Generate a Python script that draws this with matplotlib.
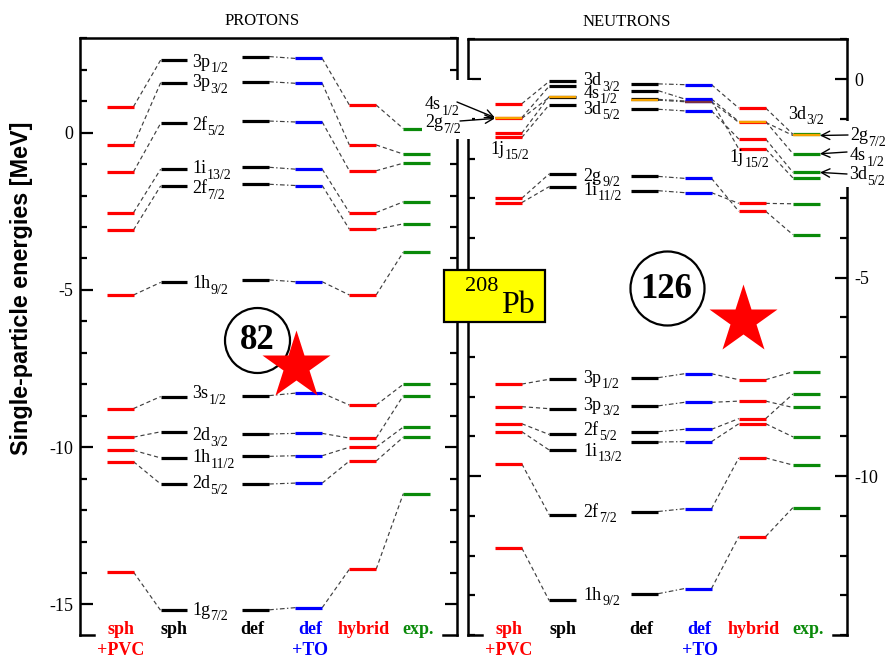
import matplotlib
matplotlib.use("Agg")
import matplotlib.pyplot as plt
from matplotlib.patches import Rectangle
from matplotlib.text import Annotation
from matplotlib.lines import Line2D
from matplotlib.ticker import MultipleLocator

plt.rcParams['font.family'] = ['Liberation Serif', 'DejaVu Serif']
plt.rcParams['axes.unicode_minus'] = False

# ---------------- data: single-particle energies [MeV] ----------------
columns = ["sph+PVC", "sph", "def", "def+TO", "hybrid", "exp."]

proton_states = ["3p1/2", "3p3/2", "2f5/2", "1i13/2", "2f7/2", "1h9/2",
                 "3s1/2", "2d3/2", "1h11/2", "2d5/2", "1g7/2"]
proton_sph_pvc = [0.83, -0.39, -1.24, -2.54, -3.09, -5.16, -8.77, -9.68, -10.10, -10.46, -13.97]
proton_sph     = [2.31, 1.59, 0.30, -1.16, -1.69, -4.76, -8.39, -9.51, -10.34, -11.17, -15.19]
proton_def     = [2.42, 1.62, 0.37, -1.10, -1.64, -4.68, -8.36, -9.58, -10.29, -11.17, -15.17]
proton_def_to  = [2.36, 1.57, 0.34, -1.16, -1.68, -4.74, -8.28, -9.56, -10.27, -11.14, -15.10]
proton_hybrid  = [0.88, -0.39, -1.21, -2.54, -3.07, -5.16, -8.66, -9.71, -10.00, -10.44, -13.88]
proton_exp     = [0.13, -0.68, -0.97, -2.20, -2.90, -3.80, -8.00, -8.36, -9.36, -9.68, -11.48]

neutron_states = ["3d3/2", "4s1/2", "2g7/2", "1j15/2", "3d5/2", "1i11/2", "2g9/2",
                  "3p1/2", "2f5/2", "3p3/2", "1i13/2", "2f7/2", "1h9/2"]
neutron_sph_pvc = [-0.62, -0.97, -0.99, -1.36, -1.47, -3.11, -3.00,
                   -7.68, -8.68, -8.25, -8.88, -9.69, -11.81]
neutron_sph     = [-0.06, -0.18, -0.46, -0.44, -0.65, -2.71, -2.39,
                   -7.56, -8.95, -8.30, -9.34, -10.97, -13.13]
neutron_def     = [-0.12, -0.29, -0.53, -0.51, -0.76, -2.81, -2.45,
                   -7.52, -8.88, -8.23, -9.14, -10.89, -12.96]
neutron_def_to  = [-0.14, -0.50, -0.57, -0.55, -0.80, -2.86, -2.50,
                   -7.42, -8.82, -8.14, -9.13, -10.82, -12.83]
neutron_hybrid  = [-0.73, -1.07, -1.09, -1.76, -1.51, -3.13, -3.33,
                   -7.57, -8.55, -8.11, -8.68, -9.54, -11.52]
neutron_exp     = [-1.39, -1.88, -1.42, -2.49, -2.35, -3.14, -3.92,
                   -7.37, -7.93, -8.27, -9.01, -9.72, -10.79]

# ---------------- layout ----------------
W, H = 889, 661
fig = plt.figure(figsize=(W / 100, H / 100), dpi=100)
renderer = fig.canvas.get_renderer()


def fig_rect(x0, y0, x1, y1):
    """Rectangle given in pixels from the top-left corner -> figure fraction."""
    return [x0 / W, 1 - y1 / H, (x1 - x0) / W, (y1 - y0) / H]


axL = fig.add_axes(fig_rect(80, 38, 457, 635))
axR = fig.add_axes(fig_rect(468, 39, 847, 635))

col_centers = [0.1065, 0.2495, 0.466, 0.607, 0.750, 0.893]
half = 0.0355
col_colors = ['#ff0000', '#000000', '#000000', '#0000ff', '#ff0000', '#0a8a0a']
g72_colors = ['#f5a300', '#f5a300', '#f5a300', '#7a3040', '#f5a300', '#f5a300']
conn_color = '#404040'
pairs = [(0, 1, (0, (3.5, 2.5))), (2, 3, (0, (4, 2, 1.2, 2))),
         (3, 4, (0, (3.5, 2.5))), (4, 5, (0, (3.5, 2.5)))]

MAIN_SIZE, SUB_SIZE, BASE_SHIFT, SUB_DROP = 13, 10, -4.3, 4.0


def style_axes(ax, ylim, labels_on):
    ax.set_xlim(0, 1)
    ax.set_ylim(*ylim)
    ax.set_xticks([])
    ax.yaxis.set_major_locator(MultipleLocator(5))
    ax.yaxis.set_minor_locator(MultipleLocator(1))
    ax.tick_params(axis='y', which='both', direction='in', left=True, right=True,
                   labelleft=(labels_on == 'left'), labelright=(labels_on == 'right'),
                   labelsize=13)
    ax.tick_params(axis='y', which='major', length=9, width=1.6, pad=5)
    ax.tick_params(axis='y', which='minor', length=5, width=1.6)
    ax.spines['bottom'].set_visible(False)
    for s in ('left', 'right', 'top'):
        ax.spines[s].set_linewidth(1.8)
    # short pieces of the bottom frame at the corners
    stub = 14 / 378
    for x0, x1 in ((0, stub), (1 - stub, 1)):
        ax.add_line(Line2D([x0, x1], [0, 0], transform=ax.transAxes, color='black',
                           lw=1.8, clip_on=False, solid_capstyle='projecting'))


def draw_levels(ax, states, cols):
    for ci, vals in enumerate(cols):
        c = col_centers[ci]
        for st, v in zip(states, vals):
            if st == '2g7/2':
                ax.plot([c - half, c + half], [v, v], color=g72_colors[ci], lw=1.7,
                        solid_capstyle='butt', zorder=4)
            else:
                ax.plot([c - half, c + half], [v, v], color=col_colors[ci], lw=2.3,
                        solid_capstyle='butt', zorder=3)
    for a, b, ls in pairs:
        for va, vb in zip(cols[a], cols[b]):
            ax.plot([col_centers[a] + half, col_centers[b] - half], [va, vb],
                    color=conn_color, lw=0.85, linestyle=ls, zorder=2)


def column_titles(ax):
    top = ["sph", "sph", "def", "def", "hybrid", "exp."]
    bottom = ["+PVC", None, None, "+TO", None, None]
    xs = [0.108, 0.25, 0.456, 0.611, 0.753, 0.897]
    for x, t, b, col in zip(xs, top, bottom, col_colors):
        ax.text(x, 0.010, t, transform=ax.transAxes, ha='center', va='center',
                fontsize=13, fontweight='bold', color=col, clip_on=False)
        if b:
            ax.text(x, -0.026, b, transform=ax.transAxes, ha='center', va='center',
                    fontsize=13, fontweight='bold', color=col, clip_on=False)


def orbital(xy, coords, s, zorder=5):
    """Orbital name like 3p1/2: main part plus lowered, smaller j subscript."""
    main, sub = s[:2], s[2:]
    t = Annotation(main, xy=xy, xycoords=coords, xytext=(0, BASE_SHIFT),
                   textcoords='offset points', ha='left', va='baseline',
                   fontsize=MAIN_SIZE, annotation_clip=False)
    t.set_zorder(zorder)
    fig.add_artist(t) if coords == 'figure pixels' else None
    return t


def put_label(ax, x, y, s, coords=None, zorder=5):
    main, sub = s[:2], s[2:]
    if coords is None:
        t = ax.annotate(main, xy=(x, y), xytext=(0, BASE_SHIFT), textcoords='offset points',
                        ha='left', va='baseline', fontsize=MAIN_SIZE,
                        annotation_clip=False, zorder=zorder)
    else:
        t = Annotation(main, xy=(x, y), xycoords=coords, xytext=(0, BASE_SHIFT),
                       textcoords='offset points', ha='left', va='baseline',
                       fontsize=MAIN_SIZE, annotation_clip=False)
        t.set_zorder(zorder)
        fig.add_artist(t)
    w = t.get_window_extent(renderer).width * 72 / fig.dpi
    if coords is None:
        ax.annotate(sub, xy=(x, y), xytext=(w + 0.3, BASE_SHIFT - SUB_DROP),
                    textcoords='offset points', ha='left', va='baseline',
                    fontsize=SUB_SIZE, annotation_clip=False, zorder=zorder)
    else:
        t2 = Annotation(sub, xy=(x, y), xycoords=coords, xytext=(w + 0.3, BASE_SHIFT - SUB_DROP),
                        textcoords='offset points', ha='left', va='baseline',
                        fontsize=SUB_SIZE, annotation_clip=False)
        t2.set_zorder(zorder)
        fig.add_artist(t2)


# ---------------- protons ----------------
style_axes(axL, (-15.97, 3.01), 'left')
proton_cols = [proton_sph_pvc, proton_sph, proton_def, proton_def_to, proton_hybrid, proton_exp]
draw_levels(axL, proton_states, proton_cols)
proton_label_y = [2.28, 1.64, 0.28, -1.10, -1.74, -4.76, -8.26, -9.58, -10.28, -11.12, -15.14]
for st, y in zip(proton_states, proton_label_y):
    put_label(axL, 0.297, y, st)
column_titles(axL)

axL.scatter([0.469], [-6.59], s=2190, facecolor='white', edgecolor='black',
            linewidths=1.6, zorder=6, clip_on=False)
axL.text(0.469, -6.62, '82', ha='center', va='center', fontsize=25,
         fontweight='bold', zorder=7)
axL.plot([0.573], [-7.42], marker='*', ms=52, color='#ff0000', mec='none',
         zorder=8, clip_on=False)

# ---------------- neutrons ----------------
style_axes(axR, (-14.0, 1.01), 'right')
neutron_cols = [neutron_sph_pvc, neutron_sph, neutron_def, neutron_def_to,
                neutron_hybrid, neutron_exp]
draw_levels(axR, neutron_states, neutron_cols)
neutron_label_y = {"3d3/2": 0.0, "4s1/2": -0.32, "3d5/2": -0.72,
                   "2g9/2": -2.41, "1i11/2": -2.76,
                   "3p1/2": -7.50, "3p3/2": -8.18, "2f5/2": -8.81, "1i13/2": -9.34,
                   "2f7/2": -10.87, "1h9/2": -12.96}
for st, y in neutron_label_y.items():
    put_label(axR, 0.305, y, st)
put_label(axR, 0.058, -1.73, "1j15/2")
put_label(axR, 0.691, -1.93, "1j15/2")
put_label(axR, 0.844, -0.85, "3d3/2")
column_titles(axR)

axR.scatter([0.524], [-5.27], s=2840, facecolor='white', edgecolor='black',
            linewidths=1.6, zorder=6, clip_on=False)
axR.text(0.524, -5.30, '126', ha='center', va='center', fontsize=25,
         fontweight='bold', zorder=7)
axR.plot([0.726], [-6.06], marker='*', ms=52, color='#ff0000', mec='none',
         zorder=8, clip_on=False)

# ---------------- figure-level annotations ----------------
fig.text(262 / W, 1 - 21 / H, 'PROTONS', ha='center', va='center', fontsize=12)
fig.text(627 / W, 1 - 22 / H, 'NEUTRONS', ha='center', va='center', fontsize=12)
fig.text(22 / W, 1 - 288 / H, 'Single-particle energies [MeV]', rotation=90,
         ha='center', va='center', fontsize=16.8, fontweight='bold',
         family=['Liberation Sans', 'DejaVu Sans'])

# white patches behind the level names that sit on the frames
fig.add_artist(Rectangle((422, H - 139), 50, 59, transform=None, facecolor='white',
                         edgecolor='none', zorder=9))
fig.add_artist(Rectangle((838, H - 187), 51, 66, transform=None, facecolor='white',
                         edgecolor='none', zorder=9))

arrow_kw = dict(arrowstyle='->,head_length=0.6,head_width=0.3', lw=1.0, color='black',
                shrinkA=0, shrinkB=0)


def pointer(text, text_px, tail_px, state, col):
    """Level name in figure pixels with an arrow to a level of the neutron panel."""
    put_label(None, text_px[0], text_px[1], text, coords='figure pixels', zorder=11)
    k = neutron_states.index(state)
    x_end = col_centers[col] - half if col == 0 else col_centers[col] + half
    ann = Annotation('', xy=(x_end, neutron_cols[col][k]), xycoords=axR.transData,
                     xytext=tail_px, textcoords='figure pixels', arrowprops=arrow_kw)
    ann.set_zorder(11)
    fig.add_artist(ann)


# positions are the vertical centres of the main glyphs, in figure pixels
pointer("4s1/2", (425, H - 103), (457, H - 102), "4s1/2", 0)
pointer("2g7/2", (425, H - 121), (460, H - 121), "2g7/2", 0)
pointer("2g7/2", (850, H - 134), (848, H - 135), "2g7/2", 5)
pointer("4s1/2", (850, H - 154), (847, H - 152), "4s1/2", 5)
pointer("3d5/2", (849, H - 173), (847, H - 174), "3d5/2", 5)

# nucleus tag
fig.add_artist(Rectangle((444, H - 322), 101, 52, transform=None, facecolor='#ffff00',
                         edgecolor='black', lw=1.6, zorder=10))
fig.text(465, H - 291, '208', transform=None, ha='left', va='baseline',
         fontsize=16, zorder=11)
fig.text(501, H - 313, 'Pb', transform=None, ha='left', va='baseline',
         fontsize=23, zorder=11)

fig.savefig('out.png', dpi=100)
